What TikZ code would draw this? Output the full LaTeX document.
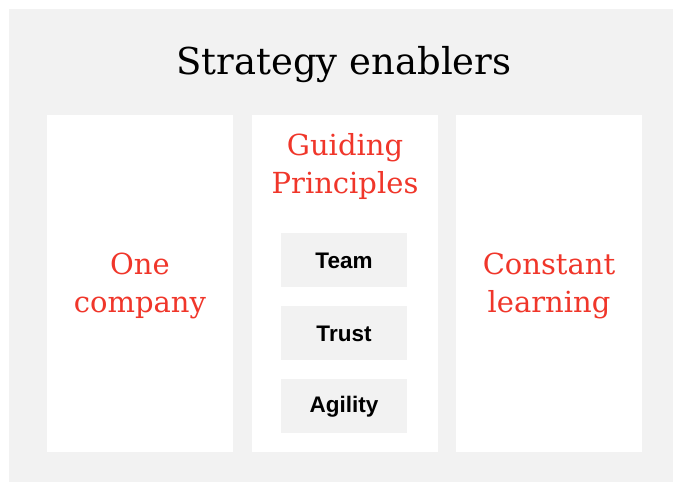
\documentclass[tikz,border=0pt]{standalone}
\usepackage{fontspec}
\setmainfont{DejaVu Serif}
\newfontfamily\labelfont{Liberation Sans}
\definecolor{bggray}{HTML}{F2F2F2}
\definecolor{accent}{HTML}{F0362A}
\begin{document}
\begin{tikzpicture}[x=1pt,y=-1pt,
  panel/.style={fill=white, draw=none},
  chip/.style={fill=bggray, draw=none},
  redtxt/.style={text=accent, font=\fontsize{29}{38}\selectfont, align=center},
  chiptxt/.style={font=\labelfont\bfseries\fontsize{22.5}{26}\selectfont, text=black}]
\useasboundingbox (0,0) rectangle (673,482);
\fill[white] (0,0) rectangle (673,482);
\fill[bggray] (9,9) rectangle (673,482);
\node[font=\fontsize{37}{44}\selectfont] (title) at (344,65) {Strategy enablers};
\fill[panel] (47,115) rectangle (233,452);
\fill[panel] (252,115) rectangle (438,452);
\fill[panel] (456,115) rectangle (642,452);
\node[redtxt] (one) at (140,286) {One\\company};
\node[redtxt] (gp) at (345,166) {Guiding\\Principles};
\node[redtxt] (cl) at (549,286) {Constant\\learning};
\fill[chip] (281,233) rectangle (407,287);
\fill[chip] (281,306) rectangle (407,360);
\fill[chip] (281,379) rectangle (407,433);
\node[chiptxt] (team) at (344,261) {Team};
\node[chiptxt] (trust) at (344,334) {Trust};
\node[chiptxt] (agility) at (344,407) {Agility};
\end{tikzpicture}
\end{document}
